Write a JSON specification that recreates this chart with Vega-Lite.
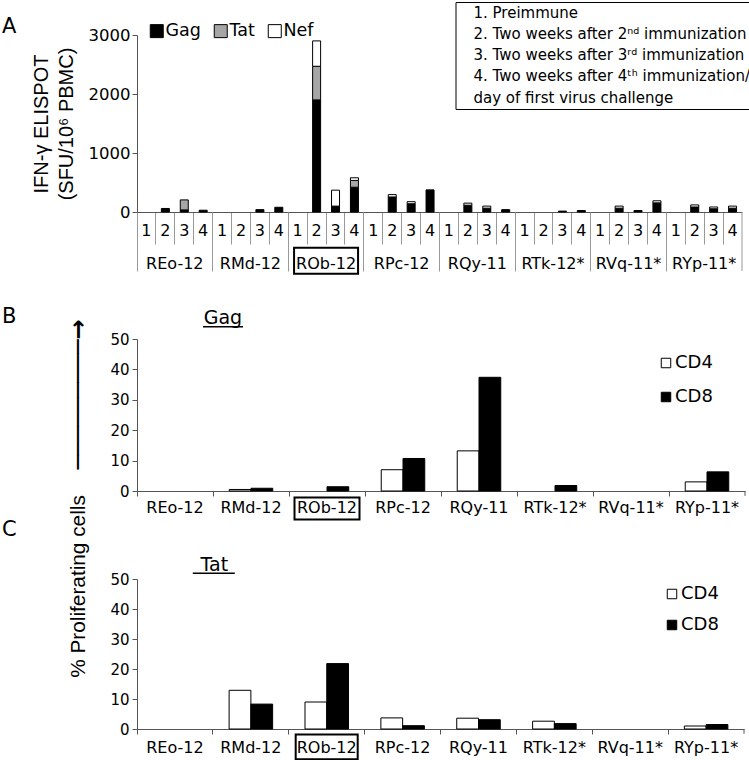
{
  "$schema": "https://vega.github.io/schema/vega-lite/v6.json",
  "padding": {"left": 2, "top": 1, "right": 0, "bottom": 0},
  "background": "white",
  "config": {
    "font": "DejaVu Sans",
    "view": {"stroke": null},
    "axis": {"domainColor": "#555", "tickColor": "#555", "labelColor": "black", "titleColor": "black", "grid": false, "labelFont": "DejaVu Sans", "titleFont": "Liberation Sans", "titleFontWeight": "normal"},
    "legend": {"labelFont": "DejaVu Sans", "labelColor": "black"},
    "title": {"font": "DejaVu Sans", "fontWeight": "normal", "color": "black"}
  },
  "spacing": 127,
  "bounds": "flush",
  "resolve": {"scale": {"fill": "independent"}, "legend": {"fill": "independent"}},
  "vconcat": [
    {
      "width": 605,
      "height": 177,
      "title": {"text": "A", "anchor": "start", "frame": "group", "dx": -135, "dy": 19, "fontSize": 21},
      "resolve": {"scale": {"x": "independent"}, "axis": {"x": "independent"}},
      "layer": [
        {
          "data": {"values": [
            {"animal": "REo-12", "time": "1", "Gag": 0, "Tat": 0, "Nef": 0},
            {"animal": "REo-12", "time": "2", "Gag": 60, "Tat": 0, "Nef": 0},
            {"animal": "REo-12", "time": "3", "Gag": 35, "Tat": 170, "Nef": 0},
            {"animal": "REo-12", "time": "4", "Gag": 30, "Tat": 0, "Nef": 0},
            {"animal": "RMd-12", "time": "1", "Gag": 0, "Tat": 0, "Nef": 0},
            {"animal": "RMd-12", "time": "2", "Gag": 0, "Tat": 0, "Nef": 0},
            {"animal": "RMd-12", "time": "3", "Gag": 40, "Tat": 0, "Nef": 0},
            {"animal": "RMd-12", "time": "4", "Gag": 80, "Tat": 0, "Nef": 0},
            {"animal": "ROb-12", "time": "1", "Gag": 0, "Tat": 0, "Nef": 0},
            {"animal": "ROb-12", "time": "2", "Gag": 1900, "Tat": 570, "Nef": 430},
            {"animal": "ROb-12", "time": "3", "Gag": 100, "Tat": 0, "Nef": 270},
            {"animal": "ROb-12", "time": "4", "Gag": 420, "Tat": 115, "Nef": 45},
            {"animal": "RPc-12", "time": "1", "Gag": 0, "Tat": 0, "Nef": 0},
            {"animal": "RPc-12", "time": "2", "Gag": 255, "Tat": 0, "Nef": 40},
            {"animal": "RPc-12", "time": "3", "Gag": 140, "Tat": 0, "Nef": 35},
            {"animal": "RPc-12", "time": "4", "Gag": 375, "Tat": 0, "Nef": 0},
            {"animal": "RQy-11", "time": "1", "Gag": 0, "Tat": 0, "Nef": 0},
            {"animal": "RQy-11", "time": "2", "Gag": 115, "Tat": 0, "Nef": 35},
            {"animal": "RQy-11", "time": "3", "Gag": 65, "Tat": 0, "Nef": 35},
            {"animal": "RQy-11", "time": "4", "Gag": 40, "Tat": 0, "Nef": 0},
            {"animal": "RTk-12*", "time": "1", "Gag": 0, "Tat": 0, "Nef": 0},
            {"animal": "RTk-12*", "time": "2", "Gag": 0, "Tat": 0, "Nef": 0},
            {"animal": "RTk-12*", "time": "3", "Gag": 15, "Tat": 0, "Nef": 0},
            {"animal": "RTk-12*", "time": "4", "Gag": 25, "Tat": 0, "Nef": 0},
            {"animal": "RVq-11*", "time": "1", "Gag": 0, "Tat": 0, "Nef": 0},
            {"animal": "RVq-11*", "time": "2", "Gag": 65, "Tat": 0, "Nef": 35},
            {"animal": "RVq-11*", "time": "3", "Gag": 25, "Tat": 0, "Nef": 0},
            {"animal": "RVq-11*", "time": "4", "Gag": 155, "Tat": 0, "Nef": 35},
            {"animal": "RYp-11*", "time": "1", "Gag": 0, "Tat": 0, "Nef": 0},
            {"animal": "RYp-11*", "time": "2", "Gag": 85, "Tat": 0, "Nef": 35},
            {"animal": "RYp-11*", "time": "3", "Gag": 55, "Tat": 0, "Nef": 30},
            {"animal": "RYp-11*", "time": "4", "Gag": 65, "Tat": 0, "Nef": 35}
          ]},
          "transform": [
            {"fold": ["Gag", "Tat", "Nef"], "as": ["protein", "value"]},
            {"calculate": "datum.animal + ' ' + datum.time", "as": "cat"},
            {"calculate": "indexof(['Gag','Tat','Nef'], datum.protein)", "as": "ord"}
          ],
          "mark": {"type": "bar", "stroke": "black", "strokeWidth": 1, "width": 8},
          "encoding": {
            "x": {"field": "cat", "type": "nominal", "sort": null,
              "scale": {"paddingInner": 0, "paddingOuter": 0},
              "axis": {"orient": "bottom", "title": null, "bandPosition": 0, "tickSize": 32, "labelOffset": 0, "labelPadding": -14, "labelBaseline": "middle", "labelAngle": 0, "labelFontSize": 16, "labelExpr": "slice(datum.label, -1)", "tickColor": "#999", "domainColor": "#555"}},
            "y": {"field": "value", "type": "quantitative", "stack": "zero",
              "scale": {"domain": [0, 3000]},
              "axis": {"values": [0, 1000, 2000, 3000], "format": "d", "tickSize": 5, "labelPadding": 2, "labelFontSize": 16.5, "title": ["IFN-γ ELISPOT", "(SFU/10⁶ PBMC)"], "titleFontSize": 20, "titleLineHeight": 25, "titlePadding": 12}},
            "fill": {"field": "protein", "type": "nominal",
              "scale": {"domain": ["Gag", "Tat", "Nef"], "range": ["black", "#a6a6a6", "white"]},
              "legend": {"orient": "none", "legendX": 11, "legendY": -13, "direction": "horizontal", "title": null, "symbolType": "square", "symbolSize": 169, "symbolStrokeColor": "black", "symbolStrokeWidth": 1, "labelFontSize": 17.5, "labelOffset": 0, "columnPadding": 11}},
            "order": {"field": "ord", "type": "quantitative"},
            "strokeOpacity": {"condition": {"test": "datum.value == 0", "value": 0}, "value": 1}
          }
        },
        {
          "data": {"values": [
            {"note": "1. Preimmune"},
            {"note": "2. Two weeks after 2ⁿᵈ immunization"},
            {"note": "3. Two weeks after 3ʳᵈ immunization"},
            {"note": "4. Two weeks after 4ᵗʰ immunization/"},
            {"note": "\u00a0\u00a0\u00a0\u00a0day of first virus challenge"}
          ]},
          "mark": {"type": "point", "opacity": 0},
          "encoding": {
            "shape": {"field": "note", "type": "nominal", "sort": null,
              "legend": {"orient": "none", "legendX": 318.5, "legendY": -33, "title": null, "strokeColor": "black", "padding": 3, "symbolSize": 0, "symbolOpacity": 0, "symbolStrokeWidth": 0, "labelFontSize": 15, "labelLimit": 600, "rowPadding": 5.25, "labelOffset": 0}}
          }
        },
        {
          "layer": [
            {
              "data": {"values": [{"animal": "ROb-12"}]},
              "mark": {"type": "bar", "fillOpacity": 0, "stroke": "black", "strokeWidth": 2, "width": 64},
              "encoding": {
                "x": {"field": "animal", "type": "nominal",
                  "scale": {"domain": ["REo-12", "RMd-12", "ROb-12", "RPc-12", "RQy-11", "RTk-12*", "RVq-11*", "RYp-11*"], "paddingInner": 0, "paddingOuter": 0},
                  "axis": {"orient": "bottom", "title": null, "bandPosition": 0, "tickSize": 59, "labelOffset": 0, "labelPadding": -8, "labelBaseline": "middle", "labelFontSize": 16, "labelAngle": 0, "domain": false, "tickColor": "#999"}},
                "y": {"datum": -605, "scale": {"domain": [0, 3000]},
                  "axis": {"values": [0, 1000, 2000, 3000], "format": "d", "tickSize": 5, "labelPadding": 2, "labelFontSize": 16.5, "title": ["IFN-γ ELISPOT", "(SFU/10⁶ PBMC)"], "titleFontSize": 20, "titleLineHeight": 25, "titlePadding": 12}},
                "y2": {"datum": -1046}
              }
            },
            {
              "data": {"values": [{"animal": "RYp-11*"}]},
              "mark": {"type": "rule", "color": "#999"},
              "encoding": {
                "x": {"field": "animal", "type": "nominal", "bandPosition": 1,
                  "scale": {"domain": ["REo-12", "RMd-12", "ROb-12", "RPc-12", "RQy-11", "RTk-12*", "RVq-11*", "RYp-11*"], "paddingInner": 0, "paddingOuter": 0},
                  "axis": {"orient": "bottom", "title": null, "bandPosition": 0, "tickSize": 59, "labelOffset": 0, "labelPadding": -8, "labelBaseline": "middle", "labelFontSize": 16, "labelAngle": 0, "domain": false, "tickColor": "#999"}},
                "y": {"datum": 0, "scale": {"domain": [0, 3000]},
                  "axis": {"values": [0, 1000, 2000, 3000], "format": "d", "tickSize": 5, "labelPadding": 2, "labelFontSize": 16.5, "title": ["IFN-γ ELISPOT", "(SFU/10⁶ PBMC)"], "titleFontSize": 20, "titleLineHeight": 25, "titlePadding": 12}},
                "y2": {"datum": -1000}
              }
            }
          ]
        }
      ]
    },
    {
      "spacing": 88,
      "bounds": "flush",
      "resolve": {"scale": {"fill": "independent"}, "legend": {"fill": "independent"}},
      "vconcat": [
        {
          "width": 608,
          "height": 152,
          "title": {"text": "B", "anchor": "start", "frame": "group", "dx": -135, "dy": 22, "fontSize": 21},
          "layer": [
            {
              "data": {"values": [
                {"animal": "REo-12", "cell": "CD4", "value": 0},
                {"animal": "REo-12", "cell": "CD8", "value": 0},
                {"animal": "RMd-12", "cell": "CD4", "value": 0.5},
                {"animal": "RMd-12", "cell": "CD8", "value": 0.9},
                {"animal": "ROb-12", "cell": "CD4", "value": 0},
                {"animal": "ROb-12", "cell": "CD8", "value": 1.4},
                {"animal": "RPc-12", "cell": "CD4", "value": 7.0},
                {"animal": "RPc-12", "cell": "CD8", "value": 10.7},
                {"animal": "RQy-11", "cell": "CD4", "value": 13.2},
                {"animal": "RQy-11", "cell": "CD8", "value": 37.4},
                {"animal": "RTk-12*", "cell": "CD4", "value": 0},
                {"animal": "RTk-12*", "cell": "CD8", "value": 1.8},
                {"animal": "RVq-11*", "cell": "CD4", "value": 0},
                {"animal": "RVq-11*", "cell": "CD8", "value": 0},
                {"animal": "RYp-11*", "cell": "CD4", "value": 3.0},
                {"animal": "RYp-11*", "cell": "CD8", "value": 6.3}
              ]},
              "mark": {"type": "bar", "stroke": "black", "strokeWidth": 1},
              "encoding": {
                "x": {"field": "animal", "type": "nominal",
                  "scale": {"domain": ["REo-12", "RMd-12", "ROb-12", "RPc-12", "RQy-11", "RTk-12*", "RVq-11*", "RYp-11*"], "paddingInner": 0, "paddingOuter": 0},
                  "axis": {"title": null, "bandPosition": 0, "tickSize": 5, "labelOffset": 0, "labelPadding": 3, "labelFontSize": 16, "labelAngle": 0}},
                "xOffset": {"field": "cell", "type": "nominal", "scale": {"domain": ["CD4", "CD8"], "paddingOuter": 0.747, "paddingInner": 0}},
                "y": {"field": "value", "type": "quantitative", "scale": {"domain": [0, 50]},
                  "axis": {"values": [0, 10, 20, 30, 40, 50], "tickSize": 5, "labelPadding": 3, "labelFontSize": 15, "title": "─────────→", "titleFont": "DejaVu Sans", "titleFontWeight": "bold", "titleFontSize": 24, "titleAngle": 270, "titleX": -59, "titleY": 55, "titleAlign": "center", "titleBaseline": "middle"}},
                "fill": {"field": "cell", "type": "nominal", "scale": {"domain": ["CD4", "CD8"], "range": ["white", "black"]},
                  "legend": {"orient": "none", "legendX": 520, "legendY": 15, "title": null, "symbolType": "square", "symbolSize": 90, "symbolStrokeColor": "black", "symbolStrokeWidth": 1, "labelFontSize": 18, "labelOffset": 0, "rowPadding": 16}},
                "strokeOpacity": {"condition": {"test": "datum.value == 0", "value": 0}, "value": 1}
              }
            },
            {
              "data": {"values": [{"animal": "ROb-12"}]},
              "mark": {"type": "bar", "fillOpacity": 0, "stroke": "black", "strokeWidth": 2, "width": 65},
              "encoding": {
                "x": {"field": "animal", "type": "nominal",
                  "axis": {"title": null, "bandPosition": 0, "tickSize": 5, "labelOffset": 0, "labelPadding": 3, "labelFontSize": 16, "labelAngle": 0}},
                "y": {"datum": -2.1, "scale": {"domain": [0, 50]},
                  "axis": {"values": [0, 10, 20, 30, 40, 50], "tickSize": 5, "labelPadding": 3, "labelFontSize": 15, "title": "─────────→", "titleFont": "DejaVu Sans", "titleFontWeight": "bold", "titleFontSize": 24, "titleAngle": 270, "titleX": -59, "titleY": 55, "titleAlign": "center", "titleBaseline": "middle"}},
                "y2": {"datum": -9.4}
              }
            },
            {
              "data": {"values": [{"animal": "RYp-11*"}]},
              "mark": {"type": "rule", "color": "#555"},
              "encoding": {
                "x": {"field": "animal", "type": "nominal", "bandPosition": 1,
                  "axis": {"title": null, "bandPosition": 0, "tickSize": 5, "labelOffset": 0, "labelPadding": 3, "labelFontSize": 16, "labelAngle": 0}},
                "y": {"datum": 0, "scale": {"domain": [0, 50]},
                  "axis": {"values": [0, 10, 20, 30, 40, 50], "tickSize": 5, "labelPadding": 3, "labelFontSize": 15, "title": "─────────→", "titleFont": "DejaVu Sans", "titleFontWeight": "bold", "titleFontSize": 24, "titleAngle": 270, "titleX": -59, "titleY": 55, "titleAlign": "center", "titleBaseline": "middle"}},
                "y2": {"datum": -1.6}
              }
            },
            {
              "data": {"values": [{"animal": "RMd-12", "label": "Gag"}]},
              "mark": {"type": "text", "fontSize": 19, "align": "center", "baseline": "alphabetic", "color": "black"},
              "encoding": {
                "x": {"field": "animal", "type": "nominal", "bandPosition": 0.13,
                  "axis": {"title": null, "bandPosition": 0, "tickSize": 5, "labelOffset": 0, "labelPadding": 3, "labelFontSize": 16, "labelAngle": 0}},
                "y": {"datum": 55, "scale": {"domain": [0, 50]},
                  "axis": {"values": [0, 10, 20, 30, 40, 50], "tickSize": 5, "labelPadding": 3, "labelFontSize": 15, "title": "─────────→", "titleFont": "DejaVu Sans", "titleFontWeight": "bold", "titleFontSize": 24, "titleAngle": 270, "titleX": -59, "titleY": 55, "titleAlign": "center", "titleBaseline": "middle"}},
                "text": {"field": "label"}
              }
            },
            {
              "data": {"values": [{"animal": "RMd-12", "label": "Gag"}]},
              "mark": {"type": "tick", "orient": "horizontal", "size": 40, "thickness": 1.5, "color": "black", "opacity": 1, "xOffset": -28},
              "encoding": {
                "x": {"field": "animal", "type": "nominal",
                  "axis": {"title": null, "bandPosition": 0, "tickSize": 5, "labelOffset": 0, "labelPadding": 3, "labelFontSize": 16, "labelAngle": 0}},
                "y": {"datum": 54, "scale": {"domain": [0, 50]},
                  "axis": {"values": [0, 10, 20, 30, 40, 50], "tickSize": 5, "labelPadding": 3, "labelFontSize": 15, "title": "─────────→", "titleFont": "DejaVu Sans", "titleFontWeight": "bold", "titleFontSize": 24, "titleAngle": 270, "titleX": -59, "titleY": 55, "titleAlign": "center", "titleBaseline": "middle"}}
              }
            }
          ]
        },
        {
          "width": 607,
          "height": 150,
          "title": {"text": "C", "anchor": "start", "frame": "group", "dx": -135, "dy": 49, "fontSize": 21},
          "layer": [
            {
              "data": {"values": [
                {"animal": "REo-12", "cell": "CD4", "value": 0},
                {"animal": "REo-12", "cell": "CD8", "value": 0},
                {"animal": "RMd-12", "cell": "CD4", "value": 12.9},
                {"animal": "RMd-12", "cell": "CD8", "value": 8.3},
                {"animal": "ROb-12", "cell": "CD4", "value": 9.0},
                {"animal": "ROb-12", "cell": "CD8", "value": 21.8},
                {"animal": "RPc-12", "cell": "CD4", "value": 3.7},
                {"animal": "RPc-12", "cell": "CD8", "value": 1.1},
                {"animal": "RQy-11", "cell": "CD4", "value": 3.6},
                {"animal": "RQy-11", "cell": "CD8", "value": 3.1},
                {"animal": "RTk-12*", "cell": "CD4", "value": 2.6},
                {"animal": "RTk-12*", "cell": "CD8", "value": 1.8},
                {"animal": "RVq-11*", "cell": "CD4", "value": 0},
                {"animal": "RVq-11*", "cell": "CD8", "value": 0},
                {"animal": "RYp-11*", "cell": "CD4", "value": 1.0},
                {"animal": "RYp-11*", "cell": "CD8", "value": 1.5}
              ]},
              "mark": {"type": "bar", "stroke": "black", "strokeWidth": 1},
              "encoding": {
                "x": {"field": "animal", "type": "nominal",
                  "scale": {"domain": ["REo-12", "RMd-12", "ROb-12", "RPc-12", "RQy-11", "RTk-12*", "RVq-11*", "RYp-11*"], "paddingInner": 0, "paddingOuter": 0},
                  "axis": {"title": null, "bandPosition": 0, "tickSize": 5, "labelOffset": 0, "labelPadding": 5, "labelFontSize": 16, "labelAngle": 0}},
                "xOffset": {"field": "cell", "type": "nominal", "scale": {"domain": ["CD4", "CD8"], "paddingOuter": 0.747, "paddingInner": 0}},
                "y": {"field": "value", "type": "quantitative", "scale": {"domain": [0, 50]},
                  "axis": {"values": [0, 10, 20, 30, 40, 50], "tickSize": 5, "labelPadding": 3, "labelFontSize": 15, "title": "% Proliferating cells", "titleFontSize": 20.8, "titleAngle": 270, "titleX": -59, "titleY": 7, "titleAlign": "center", "titleBaseline": "middle"}},
                "fill": {"field": "cell", "type": "nominal", "scale": {"domain": ["CD4", "CD8"], "range": ["white", "black"]},
                  "legend": {"orient": "none", "legendX": 526, "legendY": 6, "title": null, "symbolType": "square", "symbolSize": 90, "symbolStrokeColor": "black", "symbolStrokeWidth": 1, "labelFontSize": 18, "labelOffset": 0, "rowPadding": 13}},
                "strokeOpacity": {"condition": {"test": "datum.value == 0", "value": 0}, "value": 1}
              }
            },
            {
              "data": {"values": [{"animal": "ROb-12"}]},
              "mark": {"type": "bar", "fillOpacity": 0, "stroke": "black", "strokeWidth": 2, "width": 62},
              "encoding": {
                "x": {"field": "animal", "type": "nominal",
                  "axis": {"title": null, "bandPosition": 0, "tickSize": 5, "labelOffset": 0, "labelPadding": 5, "labelFontSize": 16, "labelAngle": 0}},
                "y": {"datum": -1.8, "scale": {"domain": [0, 50]},
                  "axis": {"values": [0, 10, 20, 30, 40, 50], "tickSize": 5, "labelPadding": 3, "labelFontSize": 15, "title": "% Proliferating cells", "titleFontSize": 20.8, "titleAngle": 270, "titleX": -59, "titleY": 7, "titleAlign": "center", "titleBaseline": "middle"}},
                "y2": {"datum": -10.1}
              }
            },
            {
              "data": {"values": [{"animal": "RYp-11*"}]},
              "mark": {"type": "rule", "color": "#555"},
              "encoding": {
                "x": {"field": "animal", "type": "nominal", "bandPosition": 1,
                  "axis": {"title": null, "bandPosition": 0, "tickSize": 5, "labelOffset": 0, "labelPadding": 5, "labelFontSize": 16, "labelAngle": 0}},
                "y": {"datum": 0, "scale": {"domain": [0, 50]},
                  "axis": {"values": [0, 10, 20, 30, 40, 50], "tickSize": 5, "labelPadding": 3, "labelFontSize": 15, "title": "% Proliferating cells", "titleFontSize": 20.8, "titleAngle": 270, "titleX": -59, "titleY": 7, "titleAlign": "center", "titleBaseline": "middle"}},
                "y2": {"datum": -1.6}
              }
            },
            {
              "data": {"values": [{"animal": "RMd-12", "label": "Tat"}]},
              "mark": {"type": "text", "fontSize": 19, "align": "center", "baseline": "alphabetic", "color": "black"},
              "encoding": {
                "x": {"field": "animal", "type": "nominal", "bandPosition": 0.02,
                  "axis": {"title": null, "bandPosition": 0, "tickSize": 5, "labelOffset": 0, "labelPadding": 5, "labelFontSize": 16, "labelAngle": 0}},
                "y": {"datum": 52.8, "scale": {"domain": [0, 50]},
                  "axis": {"values": [0, 10, 20, 30, 40, 50], "tickSize": 5, "labelPadding": 3, "labelFontSize": 15, "title": "% Proliferating cells", "titleFontSize": 20.8, "titleAngle": 270, "titleX": -59, "titleY": 7, "titleAlign": "center", "titleBaseline": "middle"}},
                "text": {"field": "label"}
              }
            },
            {
              "data": {"values": [{"animal": "RMd-12", "label": "Tat"}]},
              "mark": {"type": "tick", "orient": "horizontal", "size": 42, "thickness": 1.5, "color": "black", "opacity": 1, "xOffset": -37},
              "encoding": {
                "x": {"field": "animal", "type": "nominal",
                  "axis": {"title": null, "bandPosition": 0, "tickSize": 5, "labelOffset": 0, "labelPadding": 5, "labelFontSize": 16, "labelAngle": 0}},
                "y": {"datum": 51.9, "scale": {"domain": [0, 50]},
                  "axis": {"values": [0, 10, 20, 30, 40, 50], "tickSize": 5, "labelPadding": 3, "labelFontSize": 15, "title": "% Proliferating cells", "titleFontSize": 20.8, "titleAngle": 270, "titleX": -59, "titleY": 7, "titleAlign": "center", "titleBaseline": "middle"}}
              }
            }
          ]
        }
      ]
    }
  ]
}
